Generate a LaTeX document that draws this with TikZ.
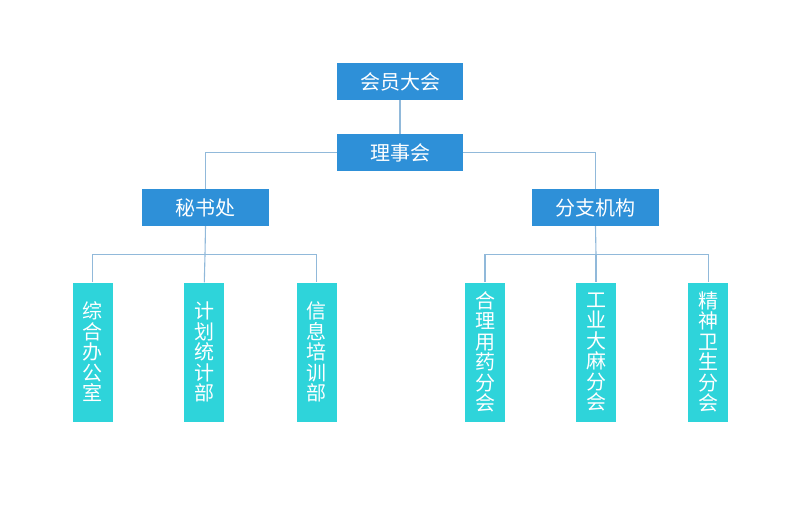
\documentclass[tikz,border=0pt]{standalone}
\usepackage{fontspec}
\newfontfamily\cjk{Noto Sans CJK SC}
\definecolor{boxblue}{RGB}{46,144,216}
\definecolor{boxteal}{RGB}{46,212,218}
\definecolor{linkcol}{RGB}{145,185,218}
\begin{document}
\begin{tikzpicture}[x=1pt,y=-1pt,
  topbox/.style={fill=boxblue,draw=none,text=white,minimum width=126pt,minimum height=37pt,inner sep=0pt,font=\cjk\fontsize{20}{22}\selectfont},
  leafbox/.style={fill=boxteal,draw=none,text=white,minimum width=40pt,minimum height=139pt,inner sep=0pt,align=center,font=\cjk\fontsize{20}{20.5}\selectfont},
  link/.style={draw=linkcol,line width=1.1pt}]
\useasboundingbox (0,0) rectangle (800,532);
\node[topbox] (a) at (400,81.5) {会员大会};
\node[topbox] (b) at (400,152.5) {理事会};
\node[topbox,minimum width=127pt] (c) at (205.5,207.5) {秘书处};
\node[topbox,minimum width=127pt] (d) at (595.5,207.5) {分支机构};
\node[leafbox] (c1) at (92.7,352) {综\\合\\办\\公\\室};
\node[leafbox] (c2) at (204.3,352) {计\\划\\统\\计\\部};
\node[leafbox] (c3) at (316.7,352) {信\\息\\培\\训\\部};
\node[leafbox] (d1) at (485,352) {合\\理\\用\\药\\分\\会};
\node[leafbox] (d2) at (596,352) {工\\业\\大\\麻\\分\\会};
\node[leafbox] (d3) at (708.3,352) {精\\神\\卫\\生\\分\\会};
\coordinate (cb) at (205,254.7);
\coordinate (db) at (596,254.7);
\draw[link] (a) -- (b);
\draw[link] (b.west) -| (c.north);
\draw[link] (b.east) -| (d.north);
\draw[link] (c.south) -- (cb);
\draw[link] (c1.north) -- (c1.north |- cb) -- (c3.north |- cb) -- (c3.north);
\draw[link] (cb) -- (c2.north);
\draw[link] (d.south) -- (db);
\draw[link] (d1.north) -- (d1.north |- db) -- (d3.north |- db) -- (d3.north);
\draw[link] (db) -- (d2.north);
\end{tikzpicture}
\end{document}
